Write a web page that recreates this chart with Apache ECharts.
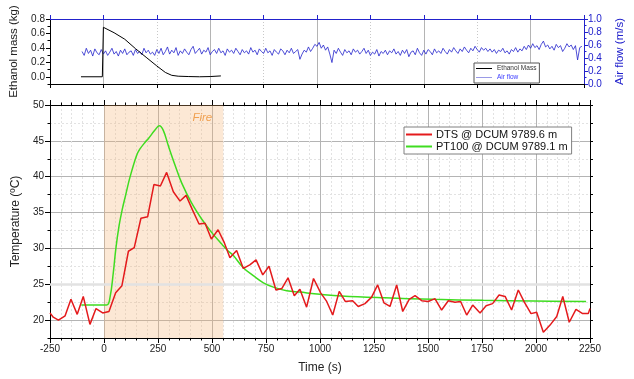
<!DOCTYPE html>
<html><head><meta charset="utf-8">
<script src="https://cdn.jsdelivr.net/npm/echarts@6/dist/echarts.min.js"></script>
<style>html,body{margin:0;padding:0;background:#fff}#c{width:634px;height:379px}</style>
</head><body><div id="c"></div>
<script>
// ---- data ----
const dtsTime = [-250,-235,-211,-180,-153,-124,-96,-65,-37,-6,23,54,83,113,140,171,202,231,261,290,321,352,380,409,440,468,497,528,557,583,614,645,675,704,735,764,796,823,852,881,907,938,970,1003,1031,1059,1089,1117,1151,1177,1208,1239,1267,1296,1324,1355,1383,1413,1440,1471,1501,1532,1563,1594,1625,1651,1679,1707,1741,1769,1799,1829,1857,1887,1918,1946,1977,2003,2034,2065,2096,2124,2154,2185,2216,2242,2250];
const dtsTemp = [21.0,20.4,20.0,20.6,22.9,20.8,23.3,19.4,21.6,21.0,21.2,23.8,24.8,29.6,30.1,34.2,34.4,38.9,38.7,40.6,37.9,36.6,37.4,35.4,33.4,33.5,31.3,32.6,30.8,28.7,29.7,27.2,27.7,28.4,26.3,27.5,24.2,24.4,25.9,23.4,24.3,21.8,25.8,23.8,22.6,20.7,24.0,22.6,22.7,21.9,22.3,23.2,24.9,22.4,21.9,24.9,21.2,22.9,23.4,22.7,22.6,23.0,21.4,22.7,22.5,22.6,20.7,22.1,21.0,22.0,22.3,23.5,23.3,21.4,24.2,22.5,20.9,21.1,18.3,19.3,20.5,23.3,19.7,21.5,20.9,20.9,21.6];
const ptTime = [-105,12,28,43,55,70,85,100,120,150,165,193,205,236,256,274,298,329,360,406,452,499,545,576,599,645,691,738,784,846,907,1000,1100,1300,1525,1756,1988,2232];
const ptTemp = [22.1,22.1,23.2,26.6,30.0,33.2,35.5,37.4,39.9,42.9,43.8,44.9,45.3,46.5,47.1,46.5,44.3,41.6,39.1,36.3,34.1,32.2,30.6,29.6,29.0,27.3,26.2,25.2,24.6,24.1,23.9,23.6,23.35,23.1,22.9,22.75,22.65,22.6];
const massTime = [-105,-5,0,50,100,150,200,250,290,320,350,400,450,500,550];
const massKg = [0,0,0.685,0.61,0.52,0.39,0.27,0.15,0.06,0.02,0.008,0.003,0,0.003,0.012];
const airStart = -100, airStep = 10;
const airFlow = [
0.50,0.44,0.55,0.47,0.52,0.43,0.54,0.48,0.45,0.53,0.46,
0.51,0.44,0.49,0.55,0.46,0.50,0.43,0.52,0.47,0.54,0.45,0.49,0.51,0.44,0.53,0.47,0.50,0.45,0.55,0.48,
0.52,0.46,0.49,0.44,0.53,0.47,0.55,0.45,0.50,0.57,0.46,0.52,0.48,0.56,0.44,0.51,0.47,0.54,0.49,0.45,
0.53,0.58,0.47,0.51,0.55,0.46,0.52,0.49,0.56,0.45,0.50,0.53,0.47,0.55,0.48,0.51,0.44,0.54,0.49,0.52,
0.47,0.55,0.50,0.45,0.53,0.48,0.51,0.46,0.56,0.49,0.52,0.45,0.54,0.50,0.47,0.55,0.48,0.51,0.44,0.53,
0.49,0.46,0.54,0.51,0.45,0.52,0.48,0.55,0.47,0.50,0.53,0.38,0.46,0.52,0.49,0.57,0.50,0.55,0.61,0.58,
0.64,0.55,0.60,0.52,0.57,0.46,0.33,0.52,0.47,0.55,0.49,0.44,0.53,0.48,0.51,0.45,0.54,0.49,0.52,0.46,
0.50,0.55,0.47,0.52,0.44,0.49,0.46,0.53,0.43,0.50,0.47,0.52,0.45,0.51,0.48,0.54,0.46,0.50,0.44,0.52,
0.47,0.53,0.42,0.49,0.51,0.45,0.55,0.48,0.44,0.52,0.46,0.53,0.50,0.45,0.54,0.48,0.51,0.47,0.55,0.50,
0.46,0.53,0.49,0.56,0.51,0.47,0.54,0.50,0.57,0.52,0.48,0.55,0.51,0.58,0.53,0.49,0.56,0.52,0.55,0.50,
0.54,0.49,0.53,0.47,0.52,0.50,0.55,0.48,0.51,0.46,0.53,0.50,0.56,0.49,0.54,0.51,0.58,0.53,0.60,0.55,
0.62,0.56,0.59,0.53,0.61,0.66,0.57,0.60,0.54,0.58,0.52,0.61,0.56,0.59,0.50,0.55,0.62,0.57,0.60,0.53,
0.59,0.37,0.56,0.58];
const fireStart = 0, fireEnd = 552;
const tempMajorTicks = [20,25,30,35,40,45,50];
const massMajorTicks = [0,0.2,0.4,0.6,0.8];
const topSolidX = [0,500,1000,1500,2000];
const highlightTemp = 25;

// ---- chart ----
const FONT = '"Liberation Sans", Arial, sans-serif';
const BLUE = '#2222cc';
const chart = echarts.init(document.getElementById('c'), null, {renderer:'canvas'});
const xr = {min:-250, max:2250, interval:250};
const lab = {fontFamily:FONT, fontSize:10, color:'#222'};
const line = (c) => ({show:true, onZero:false, lineStyle:{color:c}});

const option = {
  animation:false,
  backgroundColor:'#fff',
  textStyle:{fontFamily:FONT},
  grid:[
    {left:50, right:44, top:19, height:65},
    {left:50, right:44, top:105, height:238}
  ],
  legend:[
    {data:[{name:'DTS @ DCUM 9789.6 m'},{name:'PT100 @ DCUM 9789.1 m'}],
     orient:'vertical', left:404, top:127, icon:'rect', itemWidth:26, itemHeight:2, itemGap:1,
     padding:[2,4,2,2], borderColor:'#808080', borderWidth:1, backgroundColor:'#fff',
     textStyle:{fontFamily:FONT, fontSize:11, color:'#111', padding:[0,0,0,-1]}},
    {data:[{name:'Ethanol Mass', itemStyle:{color:'#000'}},
           {name:'Air flow', itemStyle:{color:'#9a9ae6'}, textStyle:{color:'#3a3aff'}}],
     orient:'vertical', left:474, top:63, icon:'rect', itemWidth:16, itemHeight:1, itemGap:2,
     padding:[2,3,2,2], borderColor:'#555', borderWidth:1, backgroundColor:'#fff',
     textStyle:{fontFamily:FONT, fontSize:6.5, color:'#333'}}
  ],
  xAxis:[
    Object.assign({gridIndex:0, type:'value', position:'bottom',
      axisLine:line('#000'), axisTick:{length:4, lineStyle:{color:'#000'}},
      axisLabel:{show:false},
      splitLine:{show:true, lineStyle:{color:'#c8c8c8', type:[1,2]}}}, xr),
    Object.assign({gridIndex:0, type:'value', position:'bottom',
      axisLine:{show:false, onZero:false}, axisTick:{show:false, customValues:topSolidX},
      axisLabel:{show:false, customValues:topSolidX},
      splitLine:{show:true, lineStyle:{color:'#b4b4b4'}}}, xr),
    Object.assign({gridIndex:0, type:'value', position:'top',
      axisLine:line(BLUE), axisTick:{length:4, lineStyle:{color:BLUE}},
      axisLabel:{show:false}, splitLine:{show:false}}, xr),
    Object.assign({gridIndex:1, type:'value', position:'bottom',
      axisLine:line('#000'), axisTick:{length:5, lineStyle:{color:'#000'}},
      minorTick:{show:true, splitNumber:5, length:2.5, lineStyle:{color:'#000'}},
      axisLabel:Object.assign({margin:6, formatter:v=>String(v)}, lab),
      splitLine:{show:true, lineStyle:{color:'#b4b4b4'}},
      minorSplitLine:{show:true, lineStyle:{color:'#e2e2e2', type:[2,2]}},
      name:'Time (s)', nameLocation:'middle', nameGap:24,
      nameTextStyle:{fontFamily:FONT, fontSize:12, color:'#222'}}, xr),
    Object.assign({gridIndex:1, type:'value', position:'top',
      axisLine:line('#000'), axisTick:{length:5, lineStyle:{color:'#000'}},
      minorTick:{show:true, splitNumber:5, length:2.5, lineStyle:{color:'#000'}},
      axisLabel:{show:false}, splitLine:{show:false}}, xr)
  ],
  yAxis:[
    {gridIndex:0, type:'value', position:'left', min:-0.1, max:0.8, interval:0.1,
     axisLine:line('#000'), axisTick:{length:2.5, lineStyle:{color:'#000'}},
     axisLabel:{show:false}, splitLine:{show:false}},
    {gridIndex:0, type:'value', position:'left', min:-0.1, max:0.8,
     axisLine:{show:false, onZero:false}, axisTick:{show:true, length:4, customValues:massMajorTicks, lineStyle:{color:'#000'}},
     axisLabel:Object.assign({customValues:massMajorTicks, formatter:v=>v.toFixed(1), margin:5}, lab),
     splitLine:{show:false},
     name:'Ethanol mass (kg)', nameLocation:'middle', nameGap:30,
     nameTextStyle:{fontFamily:FONT, fontSize:11.5, color:'#222'}},
    {gridIndex:0, type:'value', position:'right', min:0, max:1, interval:0.2,
     axisLine:line(BLUE), axisTick:{length:4, lineStyle:{color:BLUE}},
     minorTick:{show:true, splitNumber:2, length:2.5, lineStyle:{color:BLUE}},
     axisLabel:{fontFamily:FONT, fontSize:10, color:BLUE, formatter:v=>v.toFixed(1), margin:4},
     splitLine:{show:false},
     name:'Air flow (m/s)', nameLocation:'middle', nameGap:30,
     nameTextStyle:{fontFamily:FONT, fontSize:11.5, color:BLUE}},
    {gridIndex:1, type:'value', position:'left', min:17.5, max:50, interval:2.5,
     axisLine:line('#000'), axisTick:{length:2.5, lineStyle:{color:'#000'}},
     axisLabel:{show:false},
     splitLine:{show:true, lineStyle:{color:'#e2e2e2', type:[2,2]}}},
    {gridIndex:1, type:'value', position:'left', min:17.5, max:50,
     axisLine:{show:false, onZero:false}, axisTick:{show:true, length:5, customValues:tempMajorTicks, lineStyle:{color:'#000'}},
     axisLabel:Object.assign({customValues:tempMajorTicks, margin:6}, lab),
     splitLine:{show:true, lineStyle:{color:'#b4b4b4'}},
     name:'Temperature (ºC)', nameLocation:'middle', nameGap:27,
     nameTextStyle:{fontFamily:FONT, fontSize:12, color:'#222'}},
    {gridIndex:1, type:'value', position:'right', min:17.5, max:50, interval:2.5,
     axisLine:line('#000'), axisTick:{length:3, lineStyle:{color:'#000'}},
     axisLabel:{show:false}, splitLine:{show:false}}
  ],
  series:[
    {name:'Ethanol Mass', type:'line', xAxisIndex:0, yAxisIndex:0, symbol:'none',
     data:massTime.map((t,i)=>[t,massKg[i]]), color:'#000', lineStyle:{color:'#000', width:1}, z:4},
    {name:'Air flow', type:'line', xAxisIndex:0, yAxisIndex:2, symbol:'none',
     data:airFlow.map((v,i)=>[airStart+i*airStep, v]), color:'#9a9ae6', lineStyle:{color:BLUE, width:0.8}, z:3},
    {name:'PT100 @ DCUM 9789.1 m', type:'line', xAxisIndex:3, yAxisIndex:3, symbol:'none',
     smooth:0.4,
     data:ptTime.map((t,i)=>[t,ptTemp[i]]), color:'#3fdc20', lineStyle:{color:'#3fdc20', width:1.5}, z:3,
     markArea:{silent:true, z:1, itemStyle:{color:'rgba(245,180,115,0.3)'},
       label:{show:true, position:'insideTopRight', formatter:'Fire', color:'#f0a050',
              fontStyle:'italic', fontSize:11.5, fontFamily:FONT, offset:[-6,2]},
       data:[[{xAxis:fireStart},{xAxis:fireEnd}]]},
     markLine:{silent:true, z:1, symbol:'none', label:{show:false},
       lineStyle:{color:'#e2e2e2', width:2.5, type:'solid'},
       data:[{yAxis:highlightTemp}]}},
    {name:'DTS @ DCUM 9789.6 m', type:'line', xAxisIndex:3, yAxisIndex:3, symbol:'none',
     data:dtsTime.map((t,i)=>[t,dtsTemp[i]]), color:'#e41a1c', lineStyle:{color:'#e41a1c', width:1.5}, z:4}
  ]
};
chart.setOption(option);
</script></body></html>
